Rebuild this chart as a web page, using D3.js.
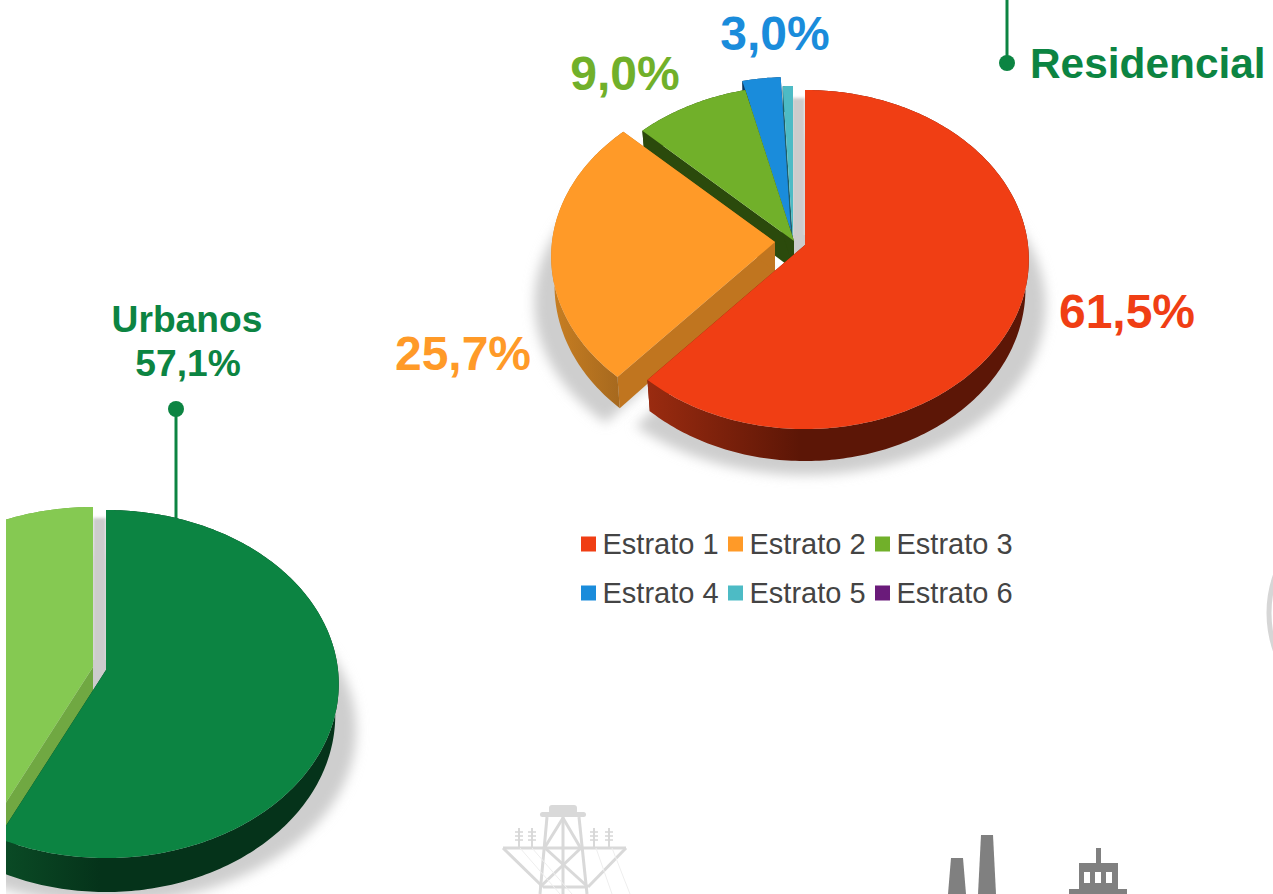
<!DOCTYPE html>
<html><head><meta charset="utf-8">
<script src="https://cdn.jsdelivr.net/npm/d3@7/dist/d3.min.js"></script>
<style>html,body{margin:0;padding:0;background:#fff;overflow:hidden}svg{display:block;font-family:"Liberation Sans",Arial,sans-serif}</style>
</head><body><svg id="c" width="1273" height="894"></svg>
<script>
// ---- data
const estratoNames = ["Estrato 1","Estrato 2","Estrato 3","Estrato 4","Estrato 5","Estrato 6"];
const estratoValues = [61.5,25.7,9.0,3.0,0.8,0.0];
const estratoLabels = ["61,5%","25,7%","9,0%","3,0%"];
const sectorNames = ["Urbanos","Rurales"];
const sectorValues = [57.1,42.9];
// ---- styles
const estratoColors = ["#F03E14","#FF9A28","#71B02A","#1A8CDB","#4DBBC5","#6A1B7A"];
const estratoCutColors = ["#7a1f0a","#C0751F","#2B4A0C","#0D3A60","#1f5f66","#3a0f44"];
const sectorColors = ["#0C8442","#85C952"];
const sectorCutColors = ["#05331A","#70A842"];
const GREEN = "#0C8442";
// ---- layout
const estratoOffsets = [[0,0],[-30,-3],[-11,-4],[-14,-13],[-12,-4],[-12,-4]];
const sectorOffsets = [[0,0],[-13,-3]];
const labelX = [1127,463,625,775], labelY = [328,370,90,50];

const svg = d3.select("#c");
const defs = svg.append("defs");
const blur = (id,s)=>defs.append("filter").attr("id",id).attr("x","-30%").attr("y","-30%").attr("width","160%").attr("height","160%")
  .append("feGaussianBlur").attr("stdDeviation",s);
blur("b6",6); blur("b2",1.6);
const hgrad=(id,x1,x2,c1,c2)=>{const g=defs.append("linearGradient").attr("id",id).attr("gradientUnits","userSpaceOnUse")
  .attr("x1",x1).attr("x2",x2).attr("y1",0).attr("y2",0);
  g.append("stop").attr("offset",0).attr("stop-color",c1);g.append("stop").attr("offset",1).attr("stop-color",c2);};
hgrad("sideRed",648,800,"#9A2B10","#5C1606");
hgrad("sideOrange",550,622,"#C97F22","#A5681E");
hgrad("sideDark",6,100,"#0A4A25","#05331A");
defs.append("clipPath").attr("id","leftClip").append("rect").attr("x",6).attr("y",0).attr("width",1267).attr("height",894);

const line = d3.line();
function drawPie(root, g, values, colors, cuts, offsets, sideFills){
  // g: x0,y0 = apex, A,B = projected radii, k = perspective, d = depth
  const proj=(a,o,sc=1)=>{const u=Math.sin(a),v=-Math.cos(a),den=1-g.k*v;
    return [g.x0+o[0]+sc*g.B*u/den, g.y0+o[1]+g.A*v/den];};
  const low=(p,o,v)=>[g.x0+o[0]+(p[0]-g.x0-o[0])*.985, p[1]+g.d*(26+3*(v+1))/32];
  const arcs=d3.pie().sort(null).value(x=>x)(values);
  const samples=(s)=>{const n=Math.max(4,Math.ceil((s.endAngle-s.startAngle)*60));
    return d3.range(n+1).map(j=>s.startAngle+(s.endAngle-s.startAngle)*j/n);};
  // soft gray shadow of the large slices
  arcs.forEach((s,i)=>{ if(s.value<20) return;
    const o=offsets[i];
    const pts=samples(s).map(a=>proj(a,o,1.075)).map(p=>[p[0],p[1]+46]);
    root.append("path").attr("d",line([[g.x0+o[0],g.y0+o[1]+30]].concat(pts))+"Z")
      .attr("fill","#cecece").attr("filter","url(#b6)");
  });
  // gray seen through the gap behind the first slice
  root.append("rect").attr("x",g.x0-13).attr("width",13).attr("y",g.y0-g.A/(1+g.k)+8).attr("height",g.A/(1+g.k)+4)
    .attr("fill","#cccccc").attr("filter","url(#b2)");
  root.append("rect").attr("x",g.x0-13).attr("width",13).attr("y",g.y0-10).attr("height",30).attr("fill","#cccccc");
  for(let i=arcs.length-1;i>=0;i--){
    const s=arcs[i], o=offsets[i];
    if(s.endAngle-s.startAngle<=0) continue;
    const as=samples(s), n=as.length-1;
    const rim=as.map(a=>proj(a,o));
    const rimLow=as.map((a,j)=>low(rim[j],o,-Math.cos(a)));
    const apex=[g.x0+o[0],g.y0+o[1]], apexLow=low(apex,o,0);
    root.append("path").attr("d",line([apex,rim[0],rimLow[0],apexLow])+"Z").attr("fill",cuts[i]);
    root.append("path").attr("d",line([apex,rim[n],rimLow[n],apexLow])+"Z").attr("fill",cuts[i]);
    root.append("path").attr("d",line(rim.concat(rimLow.slice().reverse()))+"Z").attr("fill",sideFills[i]);
    root.append("path").attr("d",line([apex].concat(rim))+"Z").attr("fill",colors[i]);
  }
}

// ---- background icons
const ic=svg.append("g");
const tower=ic.append("g").attr("stroke","#d9d9d9").attr("stroke-width",3).attr("fill","none");
[[503,848,626,848],[503,848,543,887],[626,848,588,887],[543,887,588,887],[547,817,540,894],[579,817,587,894],[563,817,563,894],
 [545,847,563,818],[580,847,563,818],[545,848,588,887],[581,848,540,887]].forEach(l=>
  tower.append("line").attr("x1",l[0]).attr("y1",l[1]).attr("x2",l[2]).attr("y2",l[3]));
ic.append("rect").attr("x",549).attr("y",805).attr("width",28).attr("height",9).attr("rx",3).attr("fill","#d9d9d9");
ic.append("rect").attr("x",540).attr("y",812).attr("width",46).attr("height",5).attr("rx",2.5).attr("fill","#d9d9d9");
[519,532,594,609].forEach(x=>{
  ic.append("line").attr("x1",x).attr("x2",x).attr("y1",828).attr("y2",847).attr("stroke","#d9d9d9").attr("stroke-width",2);
  [832,836,840].forEach(y=>ic.append("line").attr("x1",x-4).attr("x2",x+4).attr("y1",y).attr("y2",y).attr("stroke","#d9d9d9").attr("stroke-width",1.6));
});
[[520,848,560,894],[532,848,572,894],[596,848,612,894],[612,848,630,894]].forEach(l=>
  ic.append("line").attr("x1",l[0]).attr("y1",l[1]).attr("x2",l[2]).attr("y2",l[3]).attr("stroke","#eeeeee").attr("stroke-width",1));
const stack=[[951,858,963,858,966,894,948,894],[981,835,993,835,996,894,978,894]];
stack.forEach(p=>ic.append("polygon").attr("points",p.join(",")).attr("fill","#808080"));
[[1096,848,5,16],[1079,863,39,27],[1069,889,58,5]].forEach(r=>ic.append("rect").attr("x",r[0]).attr("y",r[1]).attr("width",r[2]).attr("height",r[3]).attr("fill","#808080"));
[1084,1095,1106].forEach(x=>ic.append("rect").attr("x",x).attr("y",872).attr("width",6).attr("height",11).attr("fill","#fff"));
ic.append("circle").attr("cx",1383).attr("cy",613).attr("r",114).attr("fill","#fff").attr("stroke","#d6d6d6").attr("stroke-width",5);

// ---- leaders
svg.append("line").attr("x1",176).attr("x2",176).attr("y1",409).attr("y2",525).attr("stroke",GREEN).attr("stroke-width",3);
svg.append("circle").attr("cx",176).attr("cy",409).attr("r",8).attr("fill",GREEN);
svg.append("line").attr("x1",1007).attr("x2",1007).attr("y1",0).attr("y2",63).attr("stroke",GREEN).attr("stroke-width",3);
svg.append("circle").attr("cx",1007).attr("cy",63).attr("r",8).attr("fill",GREEN);

// ---- pies
const leftRoot=svg.append("g").attr("clip-path","url(#leftClip)");
drawPie(leftRoot,{x0:106,y0:670,A:172.9,B:232,k:.0805,d:34},
  sectorValues,sectorColors,sectorCutColors,sectorOffsets,["url(#sideDark)","#70A842"]);
drawPie(svg.append("g"),{x0:805,y0:245,A:168.3,B:223,k:.0855,d:32},
  estratoValues,estratoColors,estratoCutColors,estratoOffsets,
  ["url(#sideRed)","url(#sideOrange)","#2B4A0C","#0D3A60","#1f5f66","#3a0f44"]);

// ---- texts
estratoLabels.forEach((t,i)=>svg.append("text").attr("x",labelX[i]).attr("y",labelY[i]).attr("text-anchor","middle")
  .attr("font-size",48).attr("font-weight","bold").attr("fill",estratoColors[i]).text(t));
svg.append("text").attr("x",1030).attr("y",78).attr("font-size",42.4).attr("font-weight","bold").attr("fill",GREEN).text("Residencial");
svg.append("text").attr("x",187).attr("y",332).attr("text-anchor","middle").attr("font-size",37.2).attr("font-weight","bold").attr("fill",GREEN).text(sectorNames[0]);
svg.append("text").attr("x",188).attr("y",376).attr("text-anchor","middle").attr("font-size",37.2).attr("font-weight","bold").attr("fill",GREEN).text("57,1%");

// ---- legend
const colX=d3.scalePoint().domain([0,1,2]).range([581,875]);
const rowY=d3.scalePoint().domain([0,1]).range([544,593]);
estratoNames.forEach((n,i)=>{
  const x=colX(i%3), y=rowY(Math.floor(i/3));
  svg.append("rect").attr("x",x).attr("y",y-7.5).attr("width",15).attr("height",15).attr("fill",estratoColors[i]);
  svg.append("text").attr("x",x+21.5).attr("y",y+10).attr("font-size",29).attr("fill","#444444").text(n);
});
</script></body></html>
